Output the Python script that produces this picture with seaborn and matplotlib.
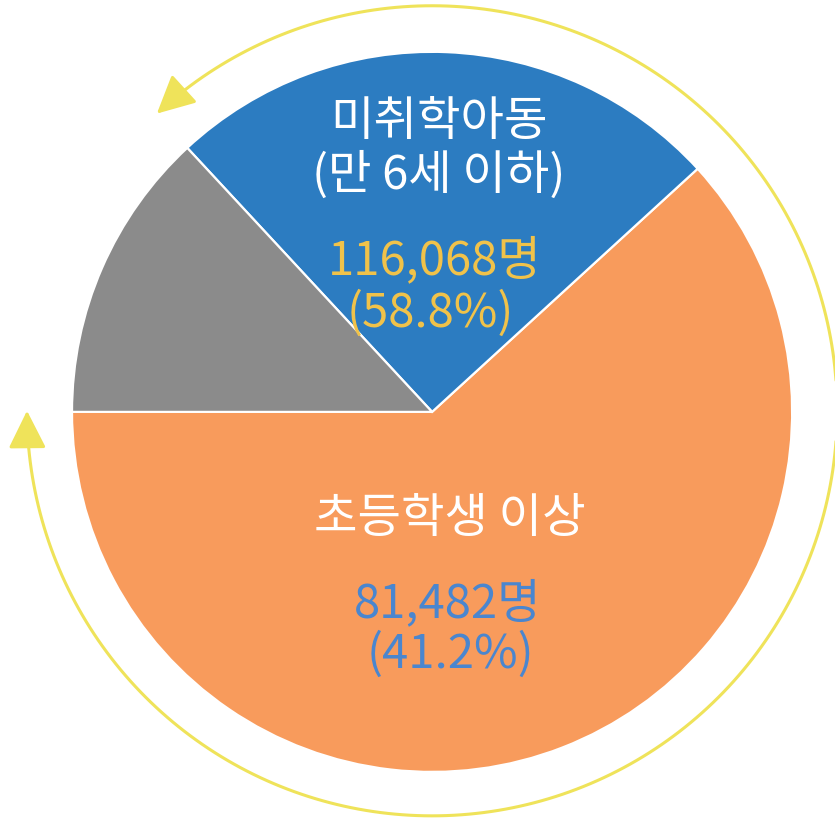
import matplotlib.pyplot as plt
from matplotlib.patches import FancyArrowPatch
from matplotlib.path import Path
import numpy as np
import seaborn as sns

sns.set_theme(style='white')
plt.rcParams['font.family'] = ['Noto Sans CJK KR', 'DejaVu Sans']

# wedge shares as drawn in the picture (orange, blue, gray)
groups = ['초등학생 이상', '미취학아동', '기타']
shares = [61.8, 25.1, 13.1]
colors = ['#f89b5c', '#2c7cc1', '#8b8b8b']

counts = ['81,482명', '116,068명']
percents = ['(41.2%)', '(58.8%)']

fig = plt.figure(figsize=(8.35, 8.27), dpi=100)
ax = fig.add_axes([0, 0, 1, 1])

ax.pie(shares, colors=colors, startangle=180, counterclock=True,
       radius=1.0, wedgeprops=dict(edgecolor='white', linewidth=1.6))

ax.set_xlim(-1.2, 1.119)
ax.set_ylim(-1.153, 1.144)
ax.set_aspect('auto')
ax.axis('off')

# yellow double-headed arc around the labelled wedges
t = np.radians(np.linspace(132.8, -180, 300))
r = 1.125
verts = np.column_stack([r * np.cos(t), r * np.sin(t) + 0.003])
arc = FancyArrowPatch(path=Path(verts), arrowstyle='<|-|>,head_length=1.3,head_width=0.65',
                      mutation_scale=18, color='#efe35a', linewidth=2.2)
ax.add_patch(arc)

fs = 34
ax.text(0.019, 0.806, groups[1], ha='center', va='center', fontsize=fs, color='white', fontweight='light')
ax.text(0.019, 0.656, '(만 6세 이하)', ha='center', va='center', fontsize=fs, color='white', fontweight='light')
ax.text(0.008, 0.419, counts[1], ha='center', va='center', fontsize=fs, color='#f0c24a', fontweight='light')
ax.text(-0.006, 0.272, percents[1], ha='center', va='center', fontsize=fs, color='#f0c24a', fontweight='light')

ax.text(0.05, -0.297, groups[0], ha='center', va='center', fontsize=fs, color='white', fontweight='light')
ax.text(0.042, -0.533, counts[0], ha='center', va='center', fontsize=fs, color='#4a86cf', fontweight='light')
ax.text(0.05, -0.675, percents[0], ha='center', va='center', fontsize=fs, color='#4a86cf', fontweight='light')

plt.savefig('out.png', dpi=100)
